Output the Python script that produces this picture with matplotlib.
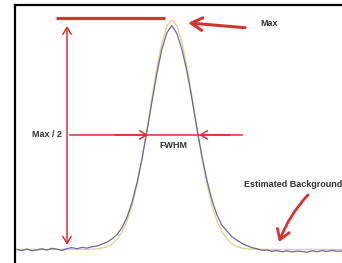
import matplotlib.pyplot as plt

# channel positions (every 5 channels), peak at 157
channel = list(range(2, 328, 5))

# fitted gaussian + flat background
fit = [0, 0, 0, 0, 0, 0, 0, 0, 0, 0, 0, 0, 0, 0, 0, 0.1, 0.3, 0.6, 1.3, 2.4,
       4.4, 7.6, 12.3, 19.1, 28.2, 39.5, 52.4, 66.2, 79.3, 90.2, 97.5, 100,
       97.5, 90.2, 79.3, 66.2, 52.4, 39.5, 28.2, 19.1, 12.3, 7.6, 4.4, 2.4,
       1.3, 0.6, 0.3, 0.1, 0, 0, 0, 0, 0, 0, 0, 0, 0, 0, 0, 0, 0, 0, 0, 0, 0, 0]

# measured profile
measured = [0.0, -0.5, 0.2, -0.6, -0.2, 0.3, -0.3, 0.5, 0.1, -0.4, 0.4, 0.8,
            0.3, 0.9, 0.6, 1.2, 1.5, 2.3, 3.2, 4.6, 6.5, 9.5, 14.0, 20.5, 29.0,
            39.5, 51.5, 64.5, 77.0, 87.5, 94.5, 97.5, 94.0, 87.0, 77.5, 65.5,
            52.5, 40.5, 30.0, 21.5, 15.0, 10.5, 8.0, 5.5, 4.0, 2.6, 1.6, 0.8,
            0.3, -0.4, -0.2, -0.8, -0.5, -1.0, -0.6, -1.1, -0.7, -0.9, -1.2,
            -0.6, -1.0, -0.5, -0.9, -0.4, -0.8, -0.6]

red = '#d63232'
txt = '#333333'

fig = plt.figure(figsize=(3.42, 2.63), dpi=100)
ax = fig.add_axes([15 / 342, 0, 1 - 15 / 342, 258 / 263])

ax.plot(channel, fit, color='#e2d494', lw=1.0)
ax.plot(channel, measured, color='#5a5c88', lw=0.9, alpha=0.9)

ax.set_xlim(0, 327)
ax.set_ylim(-5.9, 106.5)
for s in ['right', 'bottom']:
    ax.spines[s].set_visible(False)
for s in ['left', 'top']:
    ax.spines[s].set_linewidth(1.6)
ax.set_xticks([])
ax.set_yticks([])

# max level
ax.plot([41, 150], [100.7, 100.7], color=red, lw=2.3, solid_capstyle='butt')

# max to background
ax.annotate('', xy=(52, 2.0), xytext=(52, 97.4),
            arrowprops=dict(arrowstyle='<->,head_length=0.5,head_width=0.3',
                            color=red, lw=1.1, shrinkA=0, shrinkB=0))

# half max line with arrowheads
ax.plot([55, 227], [49.9, 49.9], color=red, lw=1.1)
ax.annotate('', xy=(133, 49.9), xytext=(100, 49.9),
            arrowprops=dict(arrowstyle='->,head_length=0.5,head_width=0.3',
                            color=red, lw=1.1, shrinkA=0, shrinkB=0))
ax.annotate('', xy=(184, 49.9), xytext=(215, 49.9),
            arrowprops=dict(arrowstyle='->,head_length=0.5,head_width=0.3',
                            color=red, lw=1.1, shrinkA=0, shrinkB=0))

# arrow to the peak
ax.annotate('', xy=(173, 98.7), xytext=(230, 96.6),
            arrowprops=dict(arrowstyle='->,head_length=0.8,head_width=0.45',
                            color=red, lw=2.2, shrinkA=0, shrinkB=0))

# arrow to background
ax.annotate('', xy=(264, 3.2), xytext=(293, 23.8),
            arrowprops=dict(arrowstyle='->,head_length=0.7,head_width=0.45',
                            color=red, lw=2.0, shrinkA=0, shrinkB=0,
                            connectionstyle='arc3,rad=0.1'))

font = dict(family='Liberation Sans', fontsize=6.5, fontweight='bold', color=txt)
ax.text(47, 49.9, 'Max / 2', ha='right', va='center', **font)
ax.text(158, 45.5, 'FWHM', ha='center', va='center', **font)
ax.text(245, 98.3, 'Max', ha='left', va='center', **font)
ax.text(229, 28.1, 'Estimated Background', ha='left', va='center', **font)

fig.savefig('out.png', dpi=100)
